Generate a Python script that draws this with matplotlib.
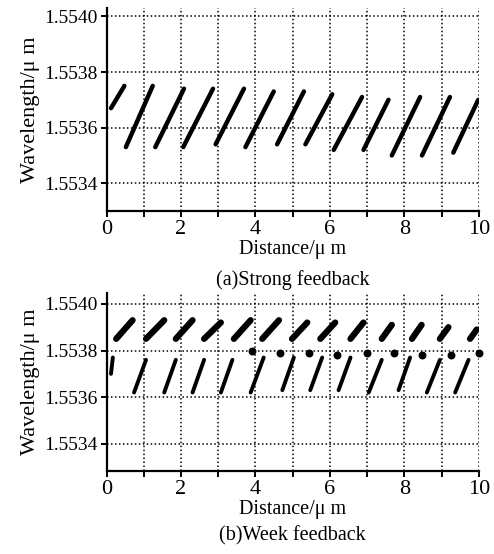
import matplotlib
matplotlib.use("Agg")
import matplotlib.pyplot as plt
from matplotlib.ticker import MultipleLocator, FormatStrFormatter

plt.rcParams['font.family'] = ['Liberation Serif', 'DejaVu Serif']

# --- datos ---
# (a) strong feedback: cada franja va de (x0, y0) a (x1, y1)
strong_x0 = [0.12, 0.52, 1.31, 2.06, 2.93, 3.73, 4.58, 5.34, 6.10, 6.90, 7.66, 8.47, 9.31]
strong_y0 = [1.55367, 1.55353, 1.55353, 1.55353, 1.55354, 1.55353, 1.55354,
             1.55354, 1.55352, 1.55352, 1.55350, 1.55350, 1.55351]
strong_x1 = [0.48, 1.24, 2.08, 2.86, 3.69, 4.49, 5.30, 6.06, 6.86, 7.57, 8.42, 9.22, 9.98]
strong_y1 = [1.55375, 1.55375, 1.55374, 1.55374, 1.55374, 1.55373, 1.55373,
             1.55372, 1.55371, 1.55370, 1.55371, 1.55371, 1.55370]

# (b) week feedback: franjas superiores
weak_up_x0 = [0.26, 1.06, 1.86, 2.62, 3.42, 4.18, 4.98, 5.74, 6.55, 7.39, 8.20, 8.95, 9.76]
weak_up_y0 = [1.55385] * 13
weak_up_x1 = [0.70, 1.55, 2.31, 3.07, 3.87, 4.63, 5.39, 6.14, 6.90, 7.66, 8.46, 9.18, 9.94]
weak_up_y1 = [1.55393, 1.55393, 1.55393, 1.55392, 1.55393, 1.55393, 1.55392,
              1.55392, 1.55392, 1.55391, 1.55391, 1.55390, 1.55389]

# franjas inferiores
weak_lo_x0 = [0.12, 0.74, 1.55, 2.31, 3.07, 3.87, 4.72, 5.47, 6.23, 7.04, 7.84, 8.60, 9.36]
weak_lo_y0 = [1.55370, 1.55362, 1.55362, 1.55362, 1.55362, 1.55362, 1.55363,
              1.55363, 1.55363, 1.55362, 1.55363, 1.55362, 1.55362]
weak_lo_x1 = [0.17, 1.06, 1.86, 2.62, 3.38, 4.22, 5.03, 5.79, 6.55, 7.39, 8.15, 8.95, 9.72]
weak_lo_y1 = [1.55377, 1.55376, 1.55376, 1.55376, 1.55376, 1.55377, 1.55377,
              1.55377, 1.55377, 1.55376, 1.55377, 1.55376, 1.55376]

# puntos sueltos cerca de 1.5538
weak_dot_x = [3.90, 4.67, 5.43, 6.20, 7.00, 7.72, 8.48, 9.25, 10.0]
weak_dot_y = [1.55380, 1.55379, 1.55379, 1.55378, 1.55379, 1.55379, 1.55378, 1.55378, 1.55379]

y_ticks = [1.5534, 1.5536, 1.5538, 1.5540]


def estilo_ejes(ax, ylim):
    ax.set_xlim(0, 10)
    ax.set_ylim(*ylim)
    ax.xaxis.set_major_locator(MultipleLocator(2))
    ax.xaxis.set_minor_locator(MultipleLocator(1))
    ax.set_yticks(y_ticks)
    ax.yaxis.set_major_formatter(FormatStrFormatter('%.4f'))
    ax.spines['top'].set_visible(False)
    ax.spines['right'].set_visible(False)
    ax.spines['left'].set_linewidth(1.6)
    ax.spines['bottom'].set_linewidth(1.6)
    ax.tick_params(axis='both', which='both', direction='out', length=4.5, width=1.4, color='black')
    ax.tick_params(axis='x', labelsize=16, pad=2)
    ax.tick_params(axis='y', labelsize=14, pad=2)
    ax.grid(True, which='both', axis='x', color='black', linestyle=(0, (1, 1.6)), linewidth=1.1)
    ax.grid(True, which='major', axis='y', color='black', linestyle=(0, (1, 1.6)), linewidth=1.1)
    ax.set_axisbelow(True)
    ax.set_xlabel('Distance/μ m', fontsize=14.5, labelpad=1)
    ax.set_ylabel('Wavelength/μ m', fontsize=16, labelpad=3)


fig = plt.figure(figsize=(4.94, 5.54), dpi=100)
ax1 = fig.add_axes([0.2156, 0.619, 0.754, 0.3665])
ax2 = fig.add_axes([0.2156, 0.150, 0.754, 0.3213])

# (a) Strong feedback
for x0, y0, x1, y1 in zip(strong_x0, strong_y0, strong_x1, strong_y1):
    ax1.plot([x0, x1], [y0, y1], color='black', linewidth=3.2, solid_capstyle='round', zorder=3)
estilo_ejes(ax1, (1.55330, 1.55403))

# (b) Week feedback
for x0, y0, x1, y1 in zip(weak_up_x0, weak_up_y0, weak_up_x1, weak_up_y1):
    ax2.plot([x0, x1], [y0, y1], color='black', linewidth=4.5, solid_capstyle='round', zorder=3)
for x0, y0, x1, y1 in zip(weak_lo_x0, weak_lo_y0, weak_lo_x1, weak_lo_y1):
    ax2.plot([x0, x1], [y0, y1], color='black', linewidth=2.8, solid_capstyle='round', zorder=3)
ax2.scatter(weak_dot_x, weak_dot_y, s=22, color='black', zorder=3, clip_on=False)
estilo_ejes(ax2, (1.553284, 1.554047))

fig.text(0.592, 1 - 280 / 554, '(a)Strong feedback', ha='center', va='center', fontsize=14.5)
fig.text(0.592, 1 - 536 / 554, '(b)Week feedback', ha='center', va='center', fontsize=14.5)

fig.savefig('out.png', dpi=100)
